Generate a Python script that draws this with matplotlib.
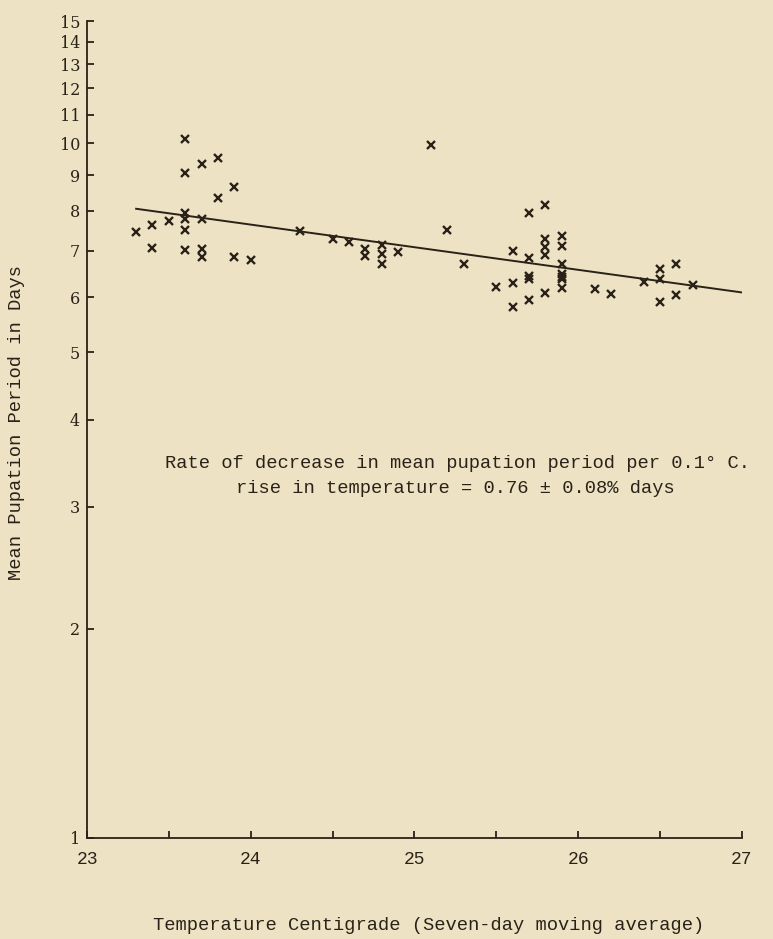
import matplotlib.pyplot as plt
import matplotlib.ticker as mtick

# Mean pupation period vs. temperature (seven-day moving average)
temperature = [
    23.3, 23.4, 23.4, 23.5, 23.6, 23.6, 23.6, 23.6, 23.6, 23.6,
    23.7, 23.7, 23.7, 23.7, 23.8, 23.8, 23.9, 23.9, 24.0, 24.3,
    24.5, 24.6, 24.7, 24.7, 24.8, 24.8, 24.8, 24.9, 25.1, 25.2,
    25.3, 25.5, 25.6, 25.6, 25.6, 25.7, 25.7, 25.7, 25.7, 25.7,
    25.8, 25.8, 25.8, 25.8, 25.8, 25.9, 25.9, 25.9, 25.9, 25.9,
    25.9, 25.9, 26.1, 26.2, 26.4, 26.5, 26.5, 26.5, 26.6, 26.6,
    26.7,
]
pupation_days = [
    7.45, 7.62, 7.07, 7.72, 10.13, 9.06, 7.94, 7.78, 7.51, 7.03,
    9.35, 7.79, 7.05, 6.85, 9.54, 8.34, 8.65, 6.86, 6.79, 7.47,
    7.28, 7.20, 7.05, 6.88, 7.15, 6.94, 6.70, 6.98, 9.93, 7.51,
    6.71, 6.21, 7.00, 6.30, 5.81, 7.95, 6.83, 6.44, 6.37, 5.94,
    8.15, 7.28, 7.09, 6.90, 6.08, 7.36, 7.12, 6.70, 6.49, 6.41,
    6.37, 6.20, 6.18, 6.06, 6.32, 6.60, 6.37, 5.91, 6.70, 6.04,
    6.26,
]

# fitted regression line (end points)
fit_temperature = [23.3, 27.0]
fit_days = [8.05, 6.1]

x_ticks = [23, 24, 25, 26, 27]
x_minor_ticks = [23.5, 24.5, 25.5, 26.5]
y_ticks = [1, 2, 3, 4, 5, 6, 7, 8, 9, 10, 11, 12, 13, 14, 15]

PAPER = "#ede3c4"
INK = "#2a2219"
MONO = "Liberation Mono"

W, H = 773, 939
fig = plt.figure(figsize=(W / 100, H / 100), dpi=100, facecolor=PAPER)
ax = fig.add_axes([87 / W, 101 / H, (742 - 87) / W, (838 - 21) / H])
ax.set_facecolor(PAPER)

ax.plot(temperature, pupation_days, linestyle="none", marker="x",
        markersize=5.5, markeredgewidth=1.7, color=INK)
ax.plot(fit_temperature, fit_days, color=INK, linewidth=1.4)

ax.set_yscale("log")
ax.set_xlim(23, 27)
ax.set_ylim(1, 15)

ax.yaxis.set_major_locator(mtick.FixedLocator(y_ticks))
ax.yaxis.set_major_formatter(mtick.FixedFormatter([str(v) for v in y_ticks]))
ax.yaxis.set_minor_locator(mtick.NullLocator())
ax.xaxis.set_major_locator(mtick.FixedLocator(x_ticks))
ax.xaxis.set_minor_locator(mtick.FixedLocator(x_minor_ticks))
ax.set_xticklabels([str(v) for v in x_ticks], family=MONO, fontsize=13, color=INK)
ax.set_yticklabels([str(v) for v in y_ticks], family="DejaVu Serif", fontsize=11.5, color=INK)

ax.tick_params(axis="y", which="major", direction="in", length=5, width=1.3,
               pad=5, colors=INK)
ax.tick_params(axis="x", which="both", direction="in", length=5, width=1.3,
               pad=9, colors=INK)

for side in ("top", "right"):
    ax.spines[side].set_visible(False)
for side in ("left", "bottom"):
    ax.spines[side].set_color(INK)
    ax.spines[side].set_linewidth(1.3)

# typewritten labels
fig.text(17 / W, 1 - 423 / H, "Mean Pupation Period in Days", rotation=90,
         ha="center", va="center", family=MONO, fontsize=13.5, color=INK)
fig.text(429 / W, 1 - 926 / H, "Temperature Centigrade (Seven-day moving average)",
         ha="center", va="center", family=MONO, fontsize=13.5, color=INK)
fig.text(165 / W, 1 - 463 / H, "Rate of decrease in mean pupation period per 0.1\u00b0 C.",
         ha="left", va="center", family=MONO, fontsize=13.5, color=INK)
fig.text(236 / W, 1 - 488 / H, "rise in temperature = 0.76 \u00b1 0.08% days",
         ha="left", va="center", family=MONO, fontsize=13.5, color=INK)

fig.savefig("out.png", dpi=100, facecolor=PAPER)
